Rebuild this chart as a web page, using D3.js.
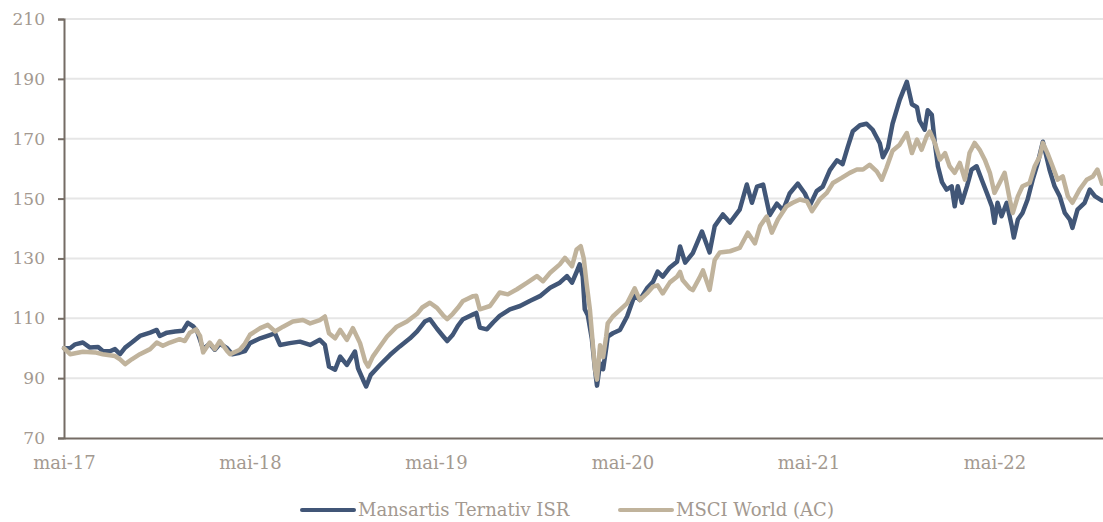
<!DOCTYPE html>
<html>
<head>
<meta charset="utf-8">
<script src="https://cdn.jsdelivr.net/npm/d3@7"></script>
<style>
  html, body { margin: 0; padding: 0; background: #ffffff; }
  svg { display: block; }
  text { font-family: "DejaVu Serif", "Liberation Serif", serif; fill: #a39990; }
</style>
</head>
<body>
<svg id="chart" width="1103" height="522"></svg>
<script>
// Mansartis Ternativ ISR, base 100
const mansartisDates = ["2017-05-01","2017-05-13","2017-05-23","2017-06-07","2017-06-21","2017-07-07","2017-07-16","2017-07-30","2017-08-09","2017-08-19","2017-08-29","2017-09-11","2017-09-27","2017-10-17","2017-10-30","2017-11-05","2017-11-19","2017-12-05","2017-12-20","2017-12-30","2018-01-09","2018-01-17","2018-01-29","2018-02-11","2018-02-21","2018-03-03","2018-03-17","2018-03-27","2018-04-11","2018-04-21","2018-05-01","2018-05-21","2018-06-09","2018-06-19","2018-06-29","2018-07-18","2018-08-07","2018-08-27","2018-09-15","2018-09-25","2018-10-03","2018-10-15","2018-10-25","2018-11-07","2018-11-23","2018-11-29","2018-12-09","2018-12-15","2018-12-24","2019-01-11","2019-01-31","2019-02-19","2019-03-11","2019-03-25","2019-04-09","2019-04-19","2019-05-03","2019-05-15","2019-05-23","2019-06-03","2019-06-13","2019-06-23","2019-07-13","2019-07-19","2019-07-26","2019-08-09","2019-08-21","2019-09-03","2019-09-23","2019-10-13","2019-11-01","2019-11-21","2019-12-11","2019-12-30","2020-01-13","2020-01-23","2020-02-03","2020-02-07","2020-02-13","2020-02-17","2020-02-23","2020-03-02","2020-03-08","2020-03-12","2020-03-18","2020-03-24","2020-03-30","2020-04-02","2020-04-12","2020-04-26","2020-05-10","2020-05-25","2020-06-04","2020-06-18","2020-06-30","2020-07-09","2020-07-19","2020-08-02","2020-08-16","2020-08-22","2020-09-01","2020-09-16","2020-10-04","2020-10-19","2020-10-29","2020-11-14","2020-11-28","2020-12-17","2020-12-31","2021-01-10","2021-01-20","2021-02-01","2021-02-14","2021-02-28","2021-03-12","2021-03-25","2021-04-10","2021-04-24","2021-05-04","2021-05-17","2021-05-29","2021-06-12","2021-06-26","2021-07-07","2021-07-17","2021-07-27","2021-08-10","2021-08-23","2021-09-04","2021-09-18","2021-09-24","2021-10-04","2021-10-13","2021-10-27","2021-11-10","2021-11-20","2021-11-30","2021-12-05","2021-12-15","2021-12-21","2021-12-29","2022-01-04","2022-01-10","2022-01-18","2022-01-27","2022-02-06","2022-02-12","2022-02-18","2022-02-26","2022-03-08","2022-03-17","2022-03-27","2022-04-06","2022-04-16","2022-04-26","2022-05-01","2022-05-07","2022-05-15","2022-05-25","2022-06-04","2022-06-08","2022-06-16","2022-06-25","2022-07-05","2022-07-15","2022-07-25","2022-08-04","2022-08-11","2022-08-17","2022-08-27","2022-09-06","2022-09-16","2022-09-26","2022-10-01","2022-10-11","2022-10-25","2022-11-04","2022-11-14","2022-11-28"];
const mansartisValues = [100,100,101.3,101.9,100.2,100.4,99.1,99,99.7,98,100.2,101.9,104.1,105.2,106.1,104.1,105.2,105.6,105.8,108.5,107.4,105.8,99.7,101.5,99.5,101.5,100,98,98.5,99,101.7,103.3,104.4,105,101.1,101.7,102.2,101.1,102.8,101.1,93.9,92.8,97.2,94.4,98.9,93.3,89.4,87.2,91.1,94.4,97.8,100.6,103.3,105.6,108.9,109.7,106.5,104,102.4,104.5,107.5,109.7,111.3,111.8,106.9,106.3,108.6,110.8,113,114.1,115.8,117.4,120.2,121.9,124.1,121.9,126.3,128,124,113,111,103,93,87.5,95,93,100,103.9,105,106.1,110.6,117.8,116.1,120,122.2,125.6,123.9,127,128.9,134,128.6,131.8,139,132,140.8,144.7,142,146.3,154.7,148.6,154,154.7,144.5,148.3,146.1,151.7,155,151.7,147.8,152.5,154,159.5,162.8,161.5,167.2,172.5,174.5,175,173,168.5,163.8,167,175,183,189,181.5,180.5,176,173,179.5,178,168.6,160.8,155.5,153,154.1,147.4,154.1,148.6,154.1,159.7,160.8,156.3,151.9,147.4,141.9,148.6,144.1,148.6,140.8,137,143,145.2,149.7,156.3,161.9,169,164.1,159.7,154.1,150.8,145.2,143,140.2,146.3,148.6,153,150.8,149.3];

// MSCI World (AC), base 100
const msciDates = ["2017-05-01","2017-05-13","2017-06-07","2017-07-01","2017-07-16","2017-08-09","2017-08-19","2017-08-29","2017-09-11","2017-09-27","2017-10-17","2017-10-30","2017-11-11","2017-11-25","2017-12-14","2017-12-24","2018-01-03","2018-01-15","2018-01-23","2018-01-29","2018-02-11","2018-02-21","2018-03-03","2018-03-17","2018-03-23","2018-04-11","2018-04-21","2018-05-01","2018-05-21","2018-06-05","2018-06-19","2018-07-05","2018-07-24","2018-08-13","2018-08-27","2018-09-15","2018-09-25","2018-10-03","2018-10-15","2018-10-25","2018-11-07","2018-11-19","2018-12-03","2018-12-13","2018-12-19","2018-12-28","2019-01-11","2019-01-25","2019-02-13","2019-03-05","2019-03-25","2019-04-04","2019-04-19","2019-05-03","2019-05-15","2019-05-23","2019-06-03","2019-06-13","2019-06-23","2019-07-13","2019-07-19","2019-07-26","2019-08-15","2019-09-03","2019-09-19","2019-10-07","2019-10-27","2019-11-15","2019-11-27","2019-12-11","2019-12-30","2020-01-09","2020-01-23","2020-02-01","2020-02-09","2020-02-15","2020-02-21","2020-02-27","2020-03-04","2020-03-08","2020-03-12","2020-03-18","2020-03-24","2020-03-30","2020-04-02","2020-04-12","2020-04-26","2020-05-10","2020-05-25","2020-06-04","2020-06-18","2020-06-30","2020-07-09","2020-07-19","2020-08-02","2020-08-16","2020-08-22","2020-08-27","2020-09-10","2020-09-16","2020-09-29","2020-10-06","2020-10-19","2020-10-29","2020-11-08","2020-11-28","2020-12-17","2021-01-02","2021-01-16","2021-01-26","2021-02-08","2021-02-18","2021-03-02","2021-03-19","2021-03-31","2021-04-14","2021-04-28","2021-05-08","2021-05-23","2021-06-06","2021-06-18","2021-07-05","2021-07-21","2021-08-04","2021-08-16","2021-08-29","2021-09-12","2021-09-22","2021-10-01","2021-10-13","2021-10-27","2021-11-10","2021-11-20","2021-11-30","2021-12-09","2021-12-19","2021-12-25","2022-01-04","2022-01-14","2022-01-24","2022-02-02","2022-02-12","2022-02-22","2022-03-04","2022-03-13","2022-03-23","2022-04-02","2022-04-12","2022-04-22","2022-05-01","2022-05-11","2022-05-21","2022-05-31","2022-06-06","2022-06-16","2022-06-25","2022-07-09","2022-07-19","2022-07-29","2022-08-04","2022-08-13","2022-08-23","2022-09-02","2022-09-12","2022-09-22","2022-10-01","2022-10-15","2022-10-29","2022-11-10","2022-11-19","2022-11-28"];
const msciValues = [100,98,98.8,98.6,98,97.4,96.3,94.7,96.3,98,99.7,101.9,100.8,101.9,103,102.4,105.2,106.3,104.1,98.6,101.9,99.7,102.4,99.1,98,99.5,101.5,104.5,106.7,107.8,105.6,107.2,108.9,109.4,108.3,109.4,110.6,105,103.3,106.1,102.8,106.7,101.7,95.6,93.9,97.2,100.6,103.9,107.2,108.9,111.5,113.6,115.2,113.5,111,109.7,111.5,113.5,115.8,117.4,117.5,113,114.1,118.6,118,119.7,121.9,124.1,122.4,125.2,128,130.2,127.4,133,134.1,130,121,113,101,93,89.5,101,97,104,108.3,110.6,112.8,115,120,116.1,118.3,120.6,121,118.3,122,123.9,125.5,122.8,120,119.4,123.5,126,119.5,129.5,132,132.4,133.5,138.6,135,140.8,144,138.6,143,147.4,148.6,149.7,149.1,145.8,149.7,151.9,155.2,156.9,158.6,159.7,159.7,161.3,159.1,156.3,160.2,166,168,171.9,165.2,169.7,166.3,170.8,172.4,168.6,163,165.2,160.8,158.6,161.9,156.3,165.2,168.6,166.3,163,158.6,151.9,155.2,158.6,149.7,145.2,150.8,154.1,155.2,160.8,164.1,168.6,165.2,160.8,156.3,157.4,150.8,148.6,153,156.3,157.4,159.7,155];

const seriesNames = ["Mansartis Ternativ ISR", "MSCI World (AC)"];
const seriesColors = ["#415677", "#c0b39c"];

const yTicks = [70, 90, 110, 130, 150, 170, 190, 210];
const xTickDates = ["2017-05-01","2018-05-01","2019-05-01","2020-05-01","2021-05-01","2022-05-01"];
const xTickLabels = ["mai-17","mai-18","mai-19","mai-20","mai-21","mai-22"];

const parse = d3.utcParse("%Y-%m-%d");
const series = [
  mansartisDates.map((d, i) => ({ date: parse(d), value: mansartisValues[i] })),
  msciDates.map((d, i) => ({ date: parse(d), value: msciValues[i] }))
];

const svg = d3.select("#chart");
const plot = { left: 64, right: 1103, top: 19, bottom: 438 };

const x = d3.scaleUtc()
  .domain([parse("2017-05-01"), parse("2022-11-30")])
  .range([plot.left, plot.right]);
const y = d3.scaleLinear().domain([70, 210]).range([plot.bottom, plot.top]);

// horizontal gridlines
svg.append("g")
  .selectAll("line")
  .data(yTicks.filter(t => t !== 70))
  .join("line")
  .attr("x1", plot.left).attr("x2", plot.right)
  .attr("y1", d => y(d)).attr("y2", d => y(d))
  .attr("stroke", "#e6e6e6")
  .attr("stroke-width", 2);

// y axis
const yAxis = svg.append("g")
  .attr("transform", `translate(${plot.left},0)`)
  .call(d3.axisLeft(y).tickValues(yTicks).tickSize(6).tickPadding(13).tickFormat(d3.format("d")));
yAxis.select(".domain").attr("stroke", "#756c65").attr("stroke-width", 2);
yAxis.selectAll(".tick line").attr("stroke", "#756c65").attr("stroke-width", 2);
yAxis.selectAll(".tick text")
  .attr("fill", "#a39990")
  .style("font-family", "'DejaVu Serif', serif")
  .style("font-size", "17px");

// x axis
const xAxis = svg.append("g")
  .attr("transform", `translate(0,${plot.bottom})`)
  .call(d3.axisBottom(x).tickValues(xTickDates.map(parse)).tickSize(0).tickPadding(18)
    .tickFormat((d, i) => xTickLabels[i]));
xAxis.select(".domain").attr("stroke", "#756c65").attr("stroke-width", 2);
xAxis.selectAll(".tick text")
  .attr("fill", "#a39990")
  .style("font-family", "'DejaVu Serif', serif")
  .style("font-size", "18px");

// series lines
const line = d3.line()
  .x(d => x(d.date))
  .y(d => y(d.value));

svg.append("g")
  .selectAll("path")
  .data(series)
  .join("path")
  .attr("d", line)
  .attr("fill", "none")
  .attr("stroke", (d, i) => seriesColors[i])
  .attr("stroke-width", 4.5)
  .attr("stroke-linejoin", "round")
  .attr("stroke-linecap", "round");

// legend
const legendItems = [
  { name: seriesNames[0], color: seriesColors[0], x: 302 },
  { name: seriesNames[1], color: seriesColors[1], x: 620 }
];
const legend = svg.append("g").attr("transform", "translate(0,510)");
const li = legend.selectAll("g").data(legendItems).join("g")
  .attr("transform", d => `translate(${d.x},0)`);
li.append("line")
  .attr("x1", 0).attr("x2", 52)
  .attr("stroke", d => d.color)
  .attr("stroke-width", 4)
  .attr("stroke-linecap", "round");
li.append("text")
  .attr("x", 56)
  .attr("dy", "0.35em")
  .style("font-size", "18px")
  .attr("fill", "#a0968e")
  .text(d => d.name);
</script>
</body>
</html>
